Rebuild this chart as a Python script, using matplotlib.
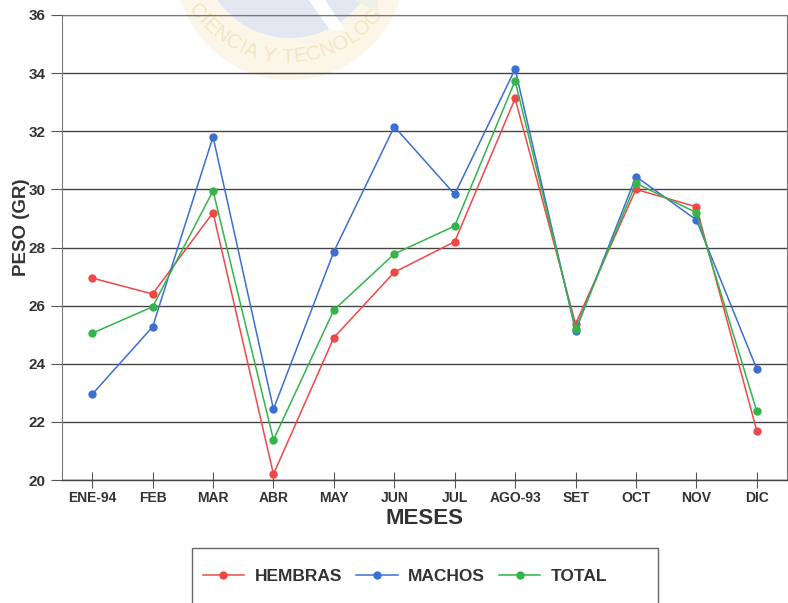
import numpy as np
import matplotlib
matplotlib.use("Agg")
import matplotlib.pyplot as plt
from matplotlib.patches import Circle, Rectangle, Polygon

plt.rcParams['font.family'] = ['Liberation Sans', 'DejaVu Sans']
plt.rcParams['font.weight'] = 'bold'

meses = ['ENE-94', 'FEB', 'MAR', 'ABR', 'MAY', 'JUN', 'JUL',
         'AGO-93', 'SET', 'OCT', 'NOV', 'DIC']
hembras = [26.95, 26.4, 29.2, 20.2, 24.9, 27.15, 28.2, 33.13, 25.37, 30.0, 29.4, 21.69]
machos = [22.95, 25.27, 31.81, 22.44, 27.86, 32.16, 29.83, 34.14, 25.13, 30.44, 28.95, 23.82]
total = [25.05, 25.96, 29.95, 21.38, 25.85, 27.78, 28.74, 33.74, 25.2, 30.21, 29.2, 22.36]

W, H = 788, 603
fig = plt.figure(figsize=(W / 100, H / 100), dpi=100)

# faint seal stamped behind the chart
bg = fig.add_axes([0, 0, 1, 1], zorder=0)
bg.set_xlim(0, W)
bg.set_ylim(H, 0)
bg.axis('off')
bg.add_patch(Circle((290, -35), 115, color='#fbf6e8', lw=0))
bg.add_patch(Circle((290, -50), 88, color='#e3e7f1', lw=0))
bg.add_patch(Polygon([(305, -5), (322, -5), (345, 30), (330, 30)],
                     closed=True, color='white', lw=0))
bg.add_patch(Polygon([(345, -5), (378, -5), (378, 12)],
                     closed=True, color='#eef2e6', lw=0))

texto = 'CIENCIA Y TECNOLOGIA'
anchos = {'C': .72, 'I': .28, 'E': .67, 'N': .72, 'A': .67, ' ': .28,
          'Y': .67, 'T': .61, 'O': .78, 'L': .56, 'G': .78}
cx, cy, r, em = 287, -55, 112, 20
phi = np.radians(147)
for ch in texto:
    w = anchos[ch] * em / r
    pc = phi - w / 2
    tx = cx + r * np.cos(pc)
    ty = cy + r * np.sin(pc)
    if ty > 9:
        bg.text(tx, ty, ch, fontsize=14.5, color='#f3e6c4', ha='center', va='center',
                rotation=90 - np.degrees(pc), fontweight='normal')
    phi -= w

ax = fig.add_axes([62 / W, 1 - 480 / H, (787 - 62) / W, (480 - 15) / H], zorder=1)
ax.patch.set_alpha(0)

x = np.arange(len(meses))
ax.plot(x, hembras, color='#f04848', lw=1.1, marker='o', ms=5, label='HEMBRAS')
ax.plot(x, machos, color='#3c6fd2', lw=1.1, marker='o', ms=5, label='MACHOS')
ax.plot(x, total, color='#34b44a', lw=1.1, marker='o', ms=5, label='TOTAL')

ax.set_xlim(-0.5, len(meses) - 0.5)
ax.set_ylim(20, 36)
ax.set_yticks(range(20, 37, 2))
ax.set_xticks(x)
ax.set_xticklabels(meses)
ax.grid(axis='y', color='#444444', lw=1)
ax.set_axisbelow(True)
ax.tick_params(axis='x', direction='inout', length=12, width=0.8, color='#555555',
               labelsize=10, pad=2, labelcolor='#333333')
ax.tick_params(axis='y', direction='out', length=8, width=0.8, color='#555555',
               labelsize=11, pad=4, labelcolor='#333333')
for lab in ax.get_xticklabels() + ax.get_yticklabels():
    lab.set_fontweight('bold')
for s in ['left', 'right', 'top']:
    ax.spines[s].set_color('#777777')
    ax.spines[s].set_linewidth(0.8)
ax.spines['bottom'].set_color('#444444')
ax.spines['bottom'].set_linewidth(1)

ax.set_xlabel('MESES', fontsize=16, fontweight='bold', color='#333333', labelpad=2)
ax.set_ylabel('PESO (GR)', fontsize=13.5, fontweight='bold', color='#333333')
ax.yaxis.set_label_coords(-32 / 725, (480 - 227) / 465)

# legend box running off the bottom edge
fig.add_artist(Rectangle((192 / W, -0.05), (658 - 192) / W, 1 - 548 / H + 0.05,
                         transform=fig.transFigure, fill=False,
                         edgecolor='#666666', lw=1))
fig.legend(loc='center', bbox_to_anchor=(405 / W, 1 - 576 / H), ncol=3,
           frameon=False, handlelength=2.4, columnspacing=0.8, handletextpad=0.6,
           prop={'weight': 'bold', 'size': 12.5}, labelcolor='#333333')

fig.savefig('out.png', dpi=100)
